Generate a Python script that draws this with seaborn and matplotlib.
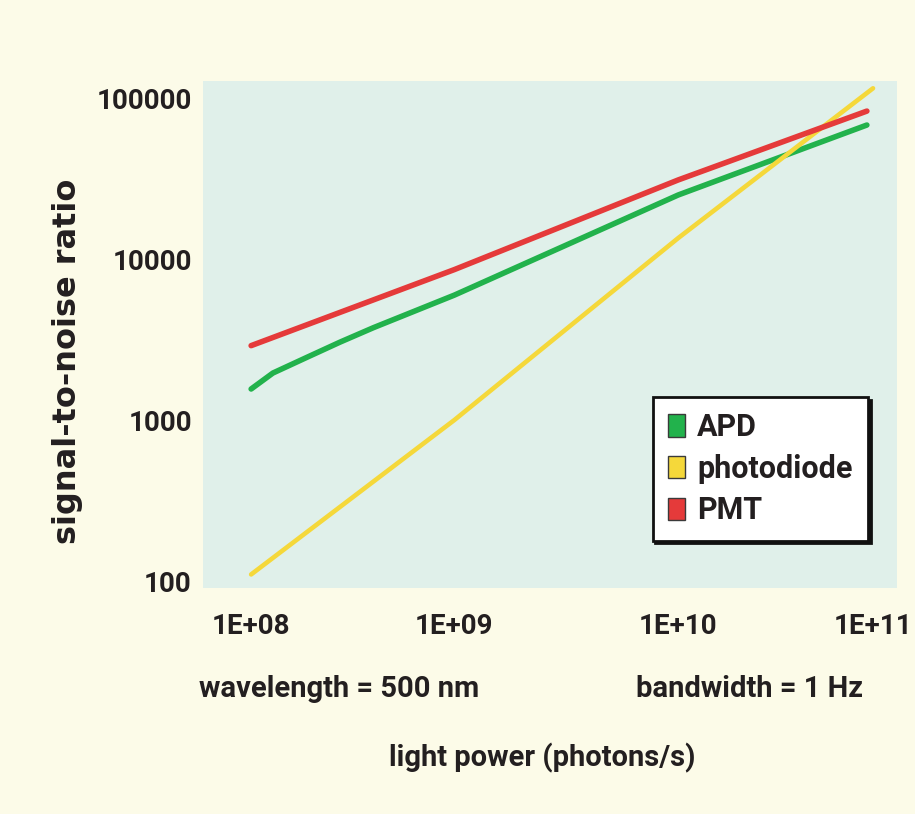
import numpy as np
import pandas as pd
import matplotlib
matplotlib.use("Agg")
import matplotlib.pyplot as plt
import seaborn as sns
from matplotlib.patches import Patch

# ---- data -------------------------------------------------------------
detectors = ["APD", "photodiode", "PMT"]

apd_power = [1.0e8, 1.28e8, 1.89e8, 2.74e8, 4.0e8, 1.0e9, 1.0e10, 9.3e10]
apd_snr = [1560, 1960, 2460, 3050, 3750, 5970, 25000, 68000]

photodiode_power = [1.0e8, 1.0e9, 1.0e10, 1.0e11]
photodiode_snr = [110, 1000, 13500, 115000]

pmt_power = [1.0e8, 1.0e9, 1.0e10, 9.3e10]
pmt_snr = [2900, 8600, 31000, 83000]

x_ticks = [1e8, 1e9, 1e10, 1e11]
x_tick_labels = ["1E+08", "1E+09", "1E+10", "1E+11"]
y_ticks = [100, 1000, 10000, 100000]
y_tick_labels = ["100", "1000", "10000", "100000"]

# decades of the printed power axis are not equally wide
decade_values = [8, 9, 10, 11]
decade_offsets = [8.0, 8.98, 10.06, 11.0]

# ---- style ------------------------------------------------------------
cream = "#fcfbe8"
panel = "#e0f0ea"
ink = "#231f20"
colors = {"APD": "#22b24c", "photodiode": "#f5d83a", "PMT": "#e53a3a"}

sns.set_theme(style="white")
plt.rcParams["font.family"] = ["Roboto", "DejaVu Sans"]
plt.rcParams["font.weight"] = "bold"

df = pd.concat(
    [
        pd.DataFrame({"power": apd_power, "snr": apd_snr, "detector": "APD"}),
        pd.DataFrame({"power": photodiode_power, "snr": photodiode_snr,
                      "detector": "photodiode"}),
        pd.DataFrame({"power": pmt_power, "snr": pmt_snr, "detector": "PMT"}),
    ],
    ignore_index=True,
)

fig = plt.figure(figsize=(9.15, 8.14), dpi=100, facecolor=cream)
ax = fig.add_axes([0.2219, 0.2776, 0.7585, 0.6229])
ax.set_facecolor(panel)

sns.lineplot(
    data=df, x="power", y="snr", hue="detector", hue_order=detectors,
    palette=colors, linewidth=4.0, legend=False, ax=ax, sort=True,
    solid_capstyle="round", solid_joinstyle="round",
)
for line, name in zip(ax.get_lines(), detectors):
    if name == "photodiode":
        line.set_linewidth(3.3)


def _forward(x):
    lx = np.log10(np.maximum(np.asarray(x, dtype=float), 1e-300))
    return np.interp(lx, [-300] + decade_values + [300],
                     [-300] + decade_offsets + [300])


def _inverse(u):
    return 10.0 ** np.interp(u, [-300] + decade_offsets + [300],
                             [-300] + decade_values + [300])


ax.set_xscale("function", functions=(_forward, _inverse))
ax.set_yscale("log")
ax.set_xlim(10 ** 7.768, 10 ** 11.116)
ax.set_ylim(10 ** 1.957, 10 ** 5.106)

ax.set_xticks(x_ticks, x_tick_labels)
ax.set_yticks(y_ticks, y_tick_labels)
ax.minorticks_off()
ax.tick_params(axis="both", direction="in", length=5, width=1.2,
               color="#6cc38a", labelcolor=ink, labelsize=20)
ax.tick_params(axis="x", pad=18)
ax.tick_params(axis="y", pad=8)
for lab in ax.get_xticklabels() + ax.get_yticklabels():
    lab.set_fontweight("bold")

for spine in ax.spines.values():
    spine.set_visible(False)
ax.grid(False)

ax.set_xlabel("")
ax.set_ylabel("signal-to-noise ratio", fontsize=23, fontweight="bold",
              color=ink, family=["DejaVu Sans"], va="center")
ax.yaxis.set_label_coords(-0.196, 0.448)

# legend with square swatches and a hard drop shadow
handles = [Patch(facecolor=colors[d], edgecolor="#3a3a3a", linewidth=1.0)
           for d in detectors]
leg = ax.legend(
    handles, detectors, loc="upper right", bbox_to_anchor=(0.958, 0.377),
    borderaxespad=0, frameon=True, fancybox=False,
    shadow={"color": "#111111", "alpha": 1.0},
    prop={"size": 22, "weight": "bold"},
    handlelength=0.56, handleheight=0.75, handletextpad=0.4,
    labelspacing=0.38, borderpad=0.5,
)
leg.get_frame().set_edgecolor("#111111")
leg.get_frame().set_linewidth(2.0)
leg.get_frame().set_facecolor("white")
for t in leg.get_texts():
    t.set_color(ink)

# annotations under the axis
fig.text(339 / 915, 1 - 697 / 814, "wavelength = 500 nm", ha="center",
         va="baseline", fontsize=21, fontweight="bold", color=ink)
fig.text(750 / 915, 1 - 697 / 814, "bandwidth = 1 Hz", ha="center",
         va="baseline", fontsize=21, fontweight="bold", color=ink)
fig.text(542 / 915, 1 - 766 / 814, "light power (photons/s)", ha="center",
         va="baseline", fontsize=21, fontweight="bold", color=ink)

fig.savefig("out.png", dpi=100, facecolor=fig.get_facecolor())
